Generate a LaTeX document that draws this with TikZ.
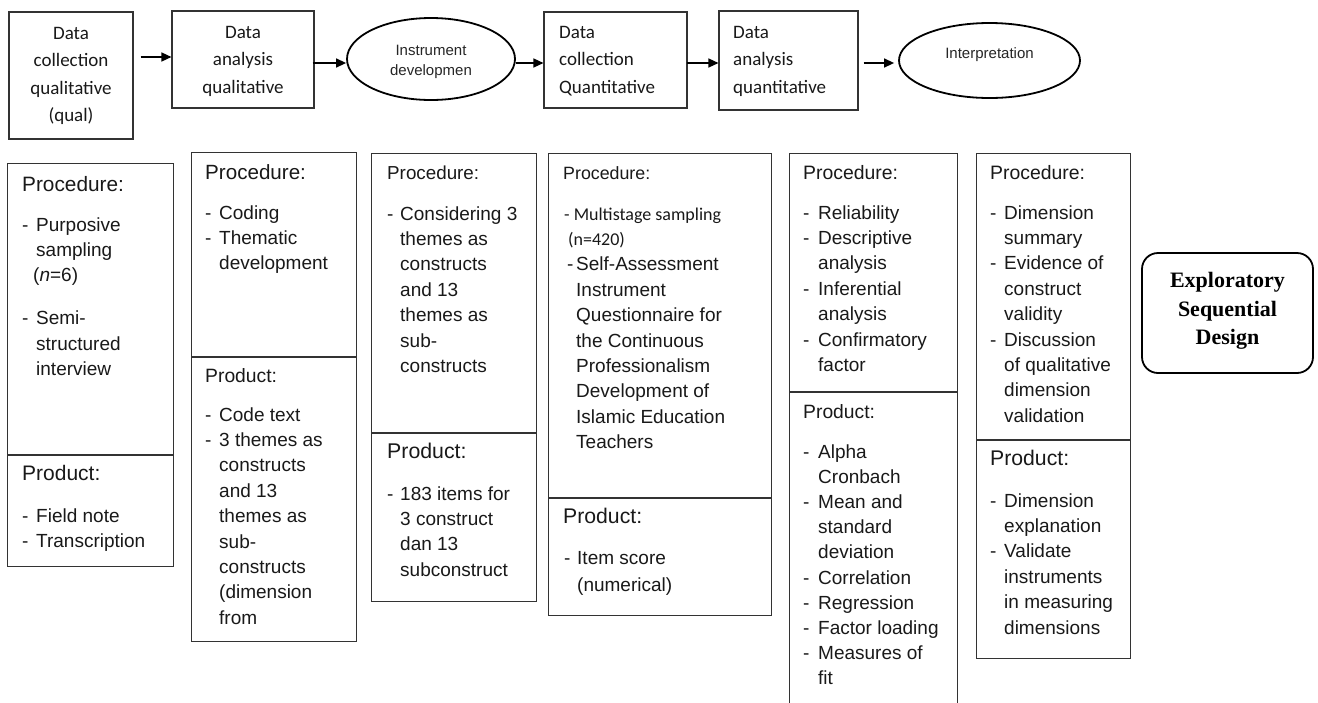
\documentclass[tikz,border=0pt]{standalone}
\usepackage{fontspec}
\setmainfont{Liberation Sans}
\newfontfamily\carl{Carlito}
\newfontfamily\tmsf{Liberation Serif}
\usetikzlibrary{arrows.meta,shapes.geometric,calc}
\newcommand\dsh[2][14pt]{\makebox[#1][l]{-}#2}
\newcommand\ind[2][14pt]{\hspace*{#1}#2}
\newcommand\hd[2]{{\fontsize{#1}{25.4}\selectfont #2}}
\newcommand\tb[2][l]{\begin{tabular}[t]{@{}#1@{}}#2\end{tabular}}
\tikzset{
  topbox/.style={draw=black!80, line width=1.1pt, inner sep=0pt},
  secbox/.style={draw=black!80, line width=1.1pt, inner sep=0pt, anchor=north west},
  ell/.style={ellipse, draw=black, line width=1.8pt, inner sep=0pt},
  arr/.style={line width=1.4pt, -{Triangle[length=10pt,width=9pt]}},
  blk/.style={inner sep=0pt, anchor=base west, text=black!90, font=\fontsize{19}{25.4}\selectfont},
  ttl/.style={inner sep=0pt, text=black!90, font=\carl\fontsize{19}{27.6}\selectfont},
  elltxt/.style={inner sep=0pt, anchor=base, text=black!85, font=\fontsize{15}{20}\selectfont},
}
\begin{document}
\begin{tikzpicture}[x=1pt,y=-1pt]
\useasboundingbox (0,0) rectangle (1318,702);
\fill[white] (0,0) rectangle (1318,702);
\clip (0,0) rectangle (1318,702);

% ---------- top row ----------
\node[topbox, minimum width=124pt, minimum height=127pt] (b1) at (71,75.5) {};
\node[topbox, minimum width=142pt, minimum height=97pt] (b2) at (243,59.5) {};
\node[ell, minimum width=168pt, minimum height=82pt] (e1) at (431,59) {};
\node[topbox, minimum width=143pt, minimum height=96pt] (b3) at (615.5,60) {};
\node[topbox, minimum width=139pt, minimum height=99pt] (b4) at (788.5,60.5) {};
\node[ell, minimum width=181pt, minimum height=75pt] (e2) at (989.5,60.5) {};

\node[ttl, anchor=base] (b1t) at (71,39) {\tb[c]{Data\\collection\\qualitative\\(qual)}};
\node[ttl, anchor=base, font=\carl\fontsize{19}{27.5}\selectfont] (b2t) at (243,38) {\tb[c]{Data\\analysis\\qualitative}};
\node[ttl, anchor=base west, font=\carl\fontsize{19}{27.8}\selectfont] (b3t) at (559,38) {\tb{Data\\collection\\Quantitative}};
\node[ttl, anchor=base west, font=\carl\fontsize{19}{27.5}\selectfont] (b4t) at (733,38) {\tb{Data\\analysis\\quantitative}};
\node[elltxt] (e1t) at (431,55) {\tb[c]{Instrument\\developmen}};
\node[elltxt] (e2t) at (989.5,58.5) {Interpretation};

\draw[arr] ($(b1.east)+(7,-18.5)$) -- ($(b2.west)+(0,-2.5)$);
\draw[arr] ($(b2.east)+(-2,3.5)$) -- ($(e1.west)+(0,4)$);
\draw[arr] ($(e1.east)+(0,4)$) -- ($(b3.west)+(0,3)$);
\draw[arr] ($(b3.east)+(-1,3)$) -- ($(b4.west)+(0,2.5)$);
\draw[arr] ($(b4.east)+(5,2.5)$) -- ($(e2.west)+(-4,2.5)$);

% ---------- columns ----------
\node[secbox, minimum width=166pt, minimum height=291pt] (c1p) at (7,163) {};
\node[secbox, minimum width=166pt, minimum height=111pt] (c1q) at (c1p.south west) {};
\node[secbox, minimum width=165pt, minimum height=204pt] (c2p) at (191,152) {};
\node[secbox, minimum width=165pt, minimum height=284pt] (c2q) at (c2p.south west) {};
\node[secbox, minimum width=165pt, minimum height=279pt] (c3p) at (371,153) {};
\node[secbox, minimum width=165pt, minimum height=168pt] (c3q) at (c3p.south west) {};
\node[secbox, minimum width=223pt, minimum height=344pt] (c4p) at (548,153) {};
\node[secbox, minimum width=223pt, minimum height=117pt] (c4q) at (c4p.south west) {};
\node[secbox, minimum width=168pt, minimum height=238pt] (c5p) at (789,153) {};
\node[secbox, minimum width=168pt, minimum height=313pt] (c5q) at (c5p.south west) {};
\node[secbox, minimum width=154pt, minimum height=286pt] (c6p) at (976,153) {};
\node[secbox, minimum width=154pt, minimum height=218pt] (c6q) at (c6p.south west) {};

% column 1
\node[blk] (t1p) at (22,191) {\tb{\hd{20.8}{Procedure:}\\[14.6pt]
  \dsh{Purposive}\\ \ind{sampling}\\ \ind[11pt]{(\textit{n}=6)}\\[17.6pt]
  \dsh{Semi-}\\ \ind{structured}\\ \ind{interview}}};
\node[blk] (t1q) at (22,480) {\tb{\hd{21}{Product:}\\[16.6pt]
  \dsh{Field note}\\ \dsh{Transcription}}};

% column 2
\node[blk] (t2p) at (205,179) {\tb{\hd{20.6}{Procedure:}\\[14.6pt]
  \dsh{Coding}\\ \dsh{Thematic}\\ \ind{development}}};
\node[blk] (t2q) at (205,382) {\tb{\hd{19.3}{Product:}\\[13.6pt]
  \dsh{Code text}\\ \dsh{3 themes as}\\ \ind{constructs}\\ \ind{and 13}\\
  \ind{themes as}\\ \ind{sub-}\\ \ind{constructs}\\ \ind{(dimension}\\ \ind{from}}};

% column 3
\node[blk] (t3p) at (387,179) {\tb{\hd{18.8}{Procedure:}\\[15.6pt]
  \dsh[13pt]{Considering 3}\\ \ind[13pt]{themes as}\\ \ind[13pt]{constructs}\\
  \ind[13pt]{and 13}\\ \ind[13pt]{themes as}\\ \ind[13pt]{sub-}\\ \ind[13pt]{constructs}}};
\node[blk] (t3q) at (387,458) {\tb{\hd{21.3}{Product:}\\[16.6pt]
  \dsh[13pt]{183 items for}\\ \ind[13pt]{3 construct}\\ \ind[13pt]{dan 13}\\ \ind[13pt]{subconstruct}}};

% column 4
\node[blk] (t4p) at (563,179) {\tb{\hd{17.8}{Procedure:}\\[15.6pt]
  \hspace*{1pt}{\carl\fontsize{18}{25.4}\selectfont - Multistage sampling}\\
  \hspace*{5pt}{\carl\fontsize{18}{25.4}\selectfont (n=420)}\\
  \hspace*{4pt}\dsh[9pt]{Self-Assessment}\\ \ind[13pt]{Instrument}\\
  \ind[13pt]{Questionnaire for}\\ \ind[13pt]{the Continuous}\\ \ind[13pt]{Professionalism}\\
  \ind[13pt]{Development of}\\ \ind[13pt]{Islamic Education}\\ \ind[13pt]{Teachers}}};
\node[blk] (t4q) at (563,523) {\tb{\hd{21.2}{Product:}\\[15.6pt]
  \hspace*{1pt}\dsh[13pt]{Item score}\\[2pt] \ind[14pt]{(numerical)}}};

% column 5
\node[blk] (t5p) at (803,179) {\tb{\hd{19.4}{Procedure:}\\[14.6pt]
  \dsh[15pt]{Reliability}\\ \dsh[15pt]{Descriptive}\\ \ind[15pt]{analysis}\\
  \dsh[15pt]{Inferential}\\ \ind[15pt]{analysis}\\ \dsh[15pt]{Confirmatory}\\ \ind[15pt]{factor}}};
\node[blk, font=\fontsize{19}{25.2}\selectfont] (t5q) at (803,418) {\tb{\hd{19.3}{Product:}\\[14.8pt]
  \dsh[15pt]{Alpha}\\ \ind[15pt]{Cronbach}\\ \dsh[15pt]{Mean and}\\ \ind[15pt]{standard}\\
  \ind[15pt]{deviation}\\ \dsh[15pt]{Correlation}\\ \dsh[15pt]{Regression}\\
  \dsh[15pt]{Factor loading}\\ \dsh[15pt]{Measures of}\\ \ind[15pt]{fit}}};

% column 6
\node[blk] (t6p) at (990,179) {\tb{\hd{19.4}{Procedure:}\\[14.6pt]
  \dsh{Dimension}\\ \ind{summary}\\ \dsh{Evidence of}\\ \ind{construct}\\ \ind{validity}\\
  \dsh{Discussion}\\ \ind{of qualitative}\\ \ind{dimension}\\ \ind{validation}}};
\node[blk] (t6q) at (990,465) {\tb{\hd{21.2}{Product:}\\[16.6pt]
  \dsh{Dimension}\\ \ind{explanation}\\ \dsh{Validate}\\ \ind{instruments}\\
  \ind{in measuring}\\ \ind{dimensions}}};

% ---------- design label ----------
\node[draw=black, line width=1.8pt, rounded corners=16pt, minimum width=171pt, minimum height=120pt, inner sep=0pt] (esd) at (1227.5,313) {};
\node[inner sep=0pt, anchor=base, font=\tmsf\bfseries\fontsize{22}{28.5}\selectfont] (esdt) at (1227.5,287.5) {\tb[c]{Exploratory\\Sequential\\Design}};
\end{tikzpicture}
\end{document}
